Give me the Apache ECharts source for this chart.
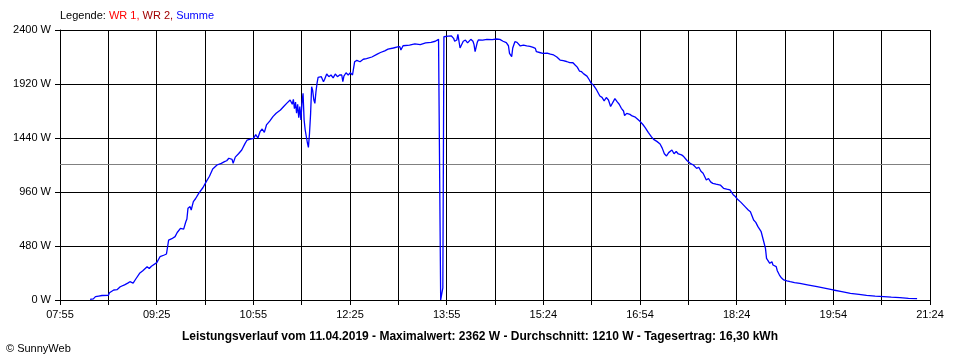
<!DOCTYPE html>
<html>
<head>
<meta charset="utf-8">
<script src="https://cdn.jsdelivr.net/npm/echarts@6/dist/echarts.min.js"></script>
<style>html,body{margin:0;padding:0;background:#fff}#c{width:960px;height:360px}</style>
</head>
<body>
<div id="c"></div>
<script>
// ---- data ----
const axisStart = "07:55";
const axisEnd = "21:24";
const gridSteps = 18;
const yTicks = [0, 480, 960, 1440, 1920, 2400];
const averageW = 1210;
const titleText = "Leistungsverlauf vom 11.04.2019 - Maximalwert: 2362 W - Durchschnitt: 1210 W - Tagesertrag: 16,30 kWh";
const legendLabels = ["Legende: ", "WR 1, ", "WR 2, ", "Summe"];
const times = [
"08:23","08:26","08:28","08:29","08:31","08:34","08:40","08:41","08:45","08:48","08:51","08:55","08:58","09:00","09:03","09:05","09:09","09:12","09:16","09:18","09:20","09:25","09:28","09:32","09:34","09:36","09:39","09:42","09:44","09:47","09:50","09:52","09:53","09:54","09:56","09:57","09:59","10:01","10:04","10:08","10:11","10:14","10:17","10:21","10:25","10:28","10:30","10:32","10:33","10:35","10:36","10:38","10:41","10:44","10:47","10:49","10:52","10:55","10:57","10:59","11:01","11:03","11:05","11:07","11:10","11:13","11:16","11:20","11:23","11:26","11:29","11:31","11:32","11:33","11:34","11:35","11:36","11:37","11:38","11:39","11:40","11:41","11:42","11:43","11:44","11:45","11:46","11:47","11:48","11:49","11:50","11:51","11:52","11:53","11:54","11:55","11:58","12:00","12:01","12:03","12:05","12:07","12:09","12:11","12:13","12:15","12:17","12:18","12:19","12:21","12:23","12:25","12:27","12:29","12:31","12:34","12:37","12:40","12:45","12:50","12:53","12:57","13:00","13:05","13:09","13:11","13:12","13:14","13:20","13:25","13:30","13:35","13:40","13:44","13:47","13:48","13:49","13:50","13:51","13:52","13:53","13:56","13:59","14:01","14:02","14:04","14:05","14:06","14:07","14:08","14:10","14:12","14:14","14:15","14:17","14:19","14:20","14:21","14:23","14:24","14:28","14:32","14:37","14:41","14:44","14:47","14:50","14:52","14:53","14:55","14:56","14:58","15:00","15:03","15:06","15:09","15:12","15:15","15:17","15:18","15:21","15:24","15:28","15:31","15:34","15:37","15:40","15:43","15:46","15:49","15:52","15:54","15:56","15:58","16:00","16:02","16:05","16:07","16:09","16:11","16:14","16:17","16:19","16:21","16:23","16:25","16:27","16:28","16:31","16:33","16:35","16:37","16:39","16:40","16:42","16:45","16:47","16:50","16:54","16:57","16:59","17:02","17:05","17:07","17:10","17:13","17:15","17:17","17:19","17:21","17:24","17:26","17:28","17:30","17:33","17:35","17:36","17:38","17:41","17:44","17:47","17:49","17:51","17:53","17:56","17:58","18:00","18:02","18:05","18:09","18:12","18:15","18:18","18:21","18:23","18:25","18:28","18:32","18:35","18:37","18:40","18:42","18:44","18:47","18:49","18:51","18:52","18:55","18:57","18:58","19:01","19:02","19:04","19:06","19:08","19:11","19:14","19:18","19:23","19:30","19:39","19:47","19:54","20:02","20:10","20:18","20:25","20:33","20:41","20:48","20:56","21:04","21:12"
];
const summeW = [
5,10,30,15,35,40,42,65,89,92,118,135,150,163,150,180,237,260,296,280,300,332,385,400,409,533,545,563,600,637,630,696,720,815,830,800,874,900,948,1000,1052,1100,1164,1200,1215,1230,1238,1260,1274,1250,1215,1270,1300,1333,1390,1422,1430,1437,1470,1440,1496,1520,1490,1556,1590,1630,1660,1689,1720,1750,1778,1740,1784,1700,1760,1660,1740,1620,1720,1600,1750,1837,1600,1511,1496,1400,1357,1480,1650,1896,1860,1780,1748,1850,1926,1979,1985,1941,1960,2009,1985,2000,1975,2009,1985,2000,2000,1941,1990,2020,2000,2020,2000,2118,2130,2118,2140,2145,2160,2185,2200,2215,2230,2240,2250,2252,2222,2260,2265,2276,2270,2285,2290,2300,2317,2320,0,0,107,2340,2347,2345,2347,2326,2300,2311,2362,2300,2240,2237,2300,2311,2285,2270,2317,2300,2270,2207,2290,2311,2310,2317,2315,2320,2317,2300,2287,2260,2193,2163,2240,2296,2290,2258,2265,2258,2255,2245,2237,2207,2200,2193,2195,2185,2178,2160,2133,2127,2120,2110,2109,2089,2070,2035,2029,2010,1990,1960,1926,1910,1867,1813,1801,1770,1800,1778,1720,1733,1790,1763,1740,1704,1680,1640,1659,1650,1636,1625,1591,1560,1535,1490,1450,1428,1410,1387,1350,1300,1280,1310,1333,1300,1320,1298,1290,1275,1268,1240,1215,1200,1170,1180,1145,1126,1067,1080,1050,1037,1030,1022,993,985,978,936,920,895,870,830,800,785,711,690,652,607,533,459,370,326,340,311,296,260,222,195,178,170,163,155,148,135,118,103,89,74,59,50,41,35,30,25,21,15,12
];

// ---- helpers ----
function toMin(s){ const p = s.split(':'); return (+p[0])*60 + (+p[1]); }
const t0 = toMin(axisStart), t1 = toMin(axisEnd);
const span = t1 - t0;
function toStep(s){ return (toMin(s) - t0) * gridSteps / span; }
function fmtTime(m){ m = Math.round(m); const h = Math.floor(m/60), mm = m%60; return (h<10?'0':'')+h+':'+(mm<10?'0':'')+mm; }

const seriesData = times.map((t,i)=>[toStep(t), summeW[i]]);
const FONT = '"Liberation Sans", Arial, sans-serif';

const chart = echarts.init(document.getElementById('c'), null, {renderer:'canvas'});
chart.setOption({
  animation: false,
  backgroundColor: '#ffffff',
  grid: {left: 60, right: 30, top: 30, bottom: 60, containLabel: false},
  xAxis: {
    type: 'value', min: 0, max: gridSteps, interval: 1,
    axisLine: {show: true, lineStyle: {color: '#000', width: 1}},
    axisTick: {show: true, length: 5, lineStyle: {color: '#000'}},
    splitLine: {show: true, lineStyle: {color: '#000', width: 1}},
    axisLabel: {
      color: '#000', fontFamily: FONT, fontSize: 11, margin: 9,
      showMinLabel: true, showMaxLabel: true, hideOverlap: false,
      formatter: function(v){ const k = Math.round(v); return k % 2 === 0 ? fmtTime(t0 + k*span/gridSteps) : ''; }
    }
  },
  yAxis: {
    type: 'value', min: yTicks[0], max: yTicks[yTicks.length-1], interval: yTicks[1]-yTicks[0],
    axisLine: {show: true, lineStyle: {color: '#000', width: 1}},
    axisTick: {show: true, length: 5, lineStyle: {color: '#000'}},
    splitLine: {show: true, lineStyle: {color: '#000', width: 1}},
    axisLabel: {color: '#000', fontFamily: FONT, fontSize: 11, margin: 9,
      formatter: function(v){ return String(Math.round(v)) + ' W'; }}
  },
  series: [{
    type: 'line', data: seriesData, showSymbol: false, symbol: 'none',
    lineStyle: {color: '#0000ff', width: 1.3}, z: 5,
    markLine: {
      silent: true, symbol: 'none', label: {show: false},
      lineStyle: {color: '#808080', type: 'solid', width: 1},
      data: [{yAxis: averageW}], z: 3
    }
  }],
  graphic: [
    {type: 'text', left: 60, top: 10, style: {
      text: '{a|' + legendLabels[0] + '}{b|' + legendLabels[1] + '}{c|' + legendLabels[2] + '}{d|' + legendLabels[3] + '}',
      font: '11px ' + FONT,
      rich: {
        a: {fill: '#000', fontFamily: FONT, fontSize: 11},
        b: {fill: '#ff0000', fontFamily: FONT, fontSize: 11},
        c: {fill: '#a00000', fontFamily: FONT, fontSize: 11},
        d: {fill: '#0000ff', fontFamily: FONT, fontSize: 11}
      }
    }},
    {type: 'text', x: 480, y: 337, style: {
      text: titleText, fill: '#000', font: 'bold 12px ' + FONT, align: 'center', verticalAlign: 'middle'
    }},
    {type: 'text', x: 6, y: 349, style: {
      text: '© SunnyWeb', fill: '#000', font: '11px ' + FONT, align: 'left', verticalAlign: 'middle'
    }}
  ]
});
</script>
</body>
</html>
